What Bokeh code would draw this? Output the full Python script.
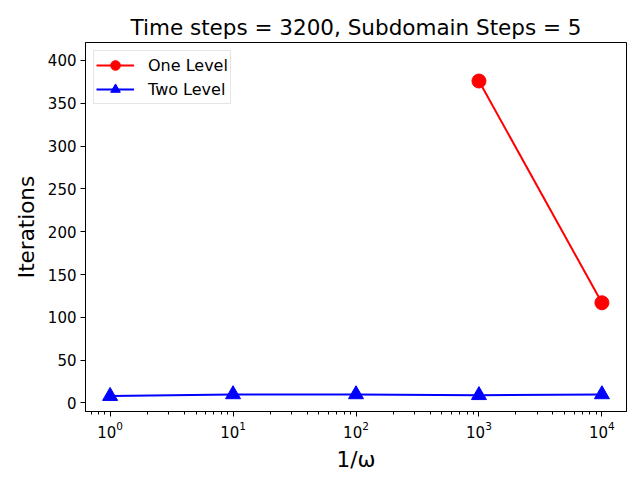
from bokeh.plotting import figure
from bokeh.models import Range1d, FixedTicker
from bokeh.embed import file_html
from bokeh.resources import INLINE

# Data
one_x = [1000, 10000]
one_y = [376, 117]
two_x = [1, 10, 100, 1000, 10000]
two_y = [8, 10, 10, 9, 10]

x_ticks = [1, 10, 100, 1000, 10000]
x_minor = [k * 10.0 ** d for d in range(-1, 5) for k in range(2, 10)]
y_ticks = [0, 50, 100, 150, 200, 250, 300, 350, 400]

FONT = "DejaVu Sans"

p = figure(frame_width=541, frame_height=369, x_axis_type="log",
           x_range=Range1d(10 ** -0.2, 10 ** 4.2), y_range=Range1d(-10, 421),
           output_backend="svg", toolbar_location=None,
           min_border_left=85, min_border_right=14, min_border_top=42, min_border_bottom=69)

p.title.text = "Time steps = 3200, Subdomain Steps = 5"
p.title.align = "center"
p.title.text_font = FONT
p.title.text_font_size = "21.5px"
p.title.text_font_style = "normal"
p.title.text_color = "black"
p.title.standoff = 5

p.line(one_x, one_y, line_color="#ff0000", line_width=2, legend_label="One Level")
p.scatter(one_x, one_y, marker="circle", size=14, fill_color="#ff0000", line_color="#ff0000", legend_label="One Level")
p.line(two_x, two_y, line_color="#0000ff", line_width=2, legend_label="Two Level")
p.scatter(two_x, two_y, marker="triangle", size=15, fill_color="#0000ff", line_color="#0000ff", legend_label="Two Level")

p.xgrid.visible = False
p.ygrid.visible = False
p.outline_line_color = "black"
p.outline_line_width = 1

p.xaxis.ticker = FixedTicker(ticks=x_ticks, minor_ticks=x_minor)
p.yaxis.ticker = FixedTicker(ticks=y_ticks)
p.yaxis.minor_tick_line_color = None

for ax in (p.xaxis, p.yaxis):
    ax.axis_line_color = "black"
    ax.axis_line_width = 1
    ax.major_tick_line_color = "black"
    ax.major_tick_in = 0
    ax.major_tick_out = 5
    ax.minor_tick_in = 0
    ax.minor_tick_out = 3
    ax.major_label_text_font = FONT
    ax.major_label_text_font_size = "15px"
    ax.major_label_text_color = "black"
    ax.axis_label_text_font = FONT
    ax.axis_label_text_font_size = "21.5px"
    ax.axis_label_text_font_style = "normal"
    ax.axis_label_text_color = "black"
    ax.major_label_standoff = 4
    ax.axis_label_standoff = 6

p.xaxis.axis_label = "1/ω"
p.yaxis.axis_label = "Iterations"

lg = p.legend[0]
lg.location = "top_left"
lg.margin = 8
lg.padding = 2
lg.spacing = 0
lg.label_height = 24
lg.glyph_height = 24
lg.glyph_width = 38
lg.label_standoff = 14
lg.label_text_font = FONT
lg.label_text_font_size = "16px"
lg.label_text_color = "black"
lg.border_line_color = "#cccccc"
lg.border_line_width = 1
lg.background_fill_alpha = 0.8

open("out.html", "w").write(file_html(p, INLINE))
